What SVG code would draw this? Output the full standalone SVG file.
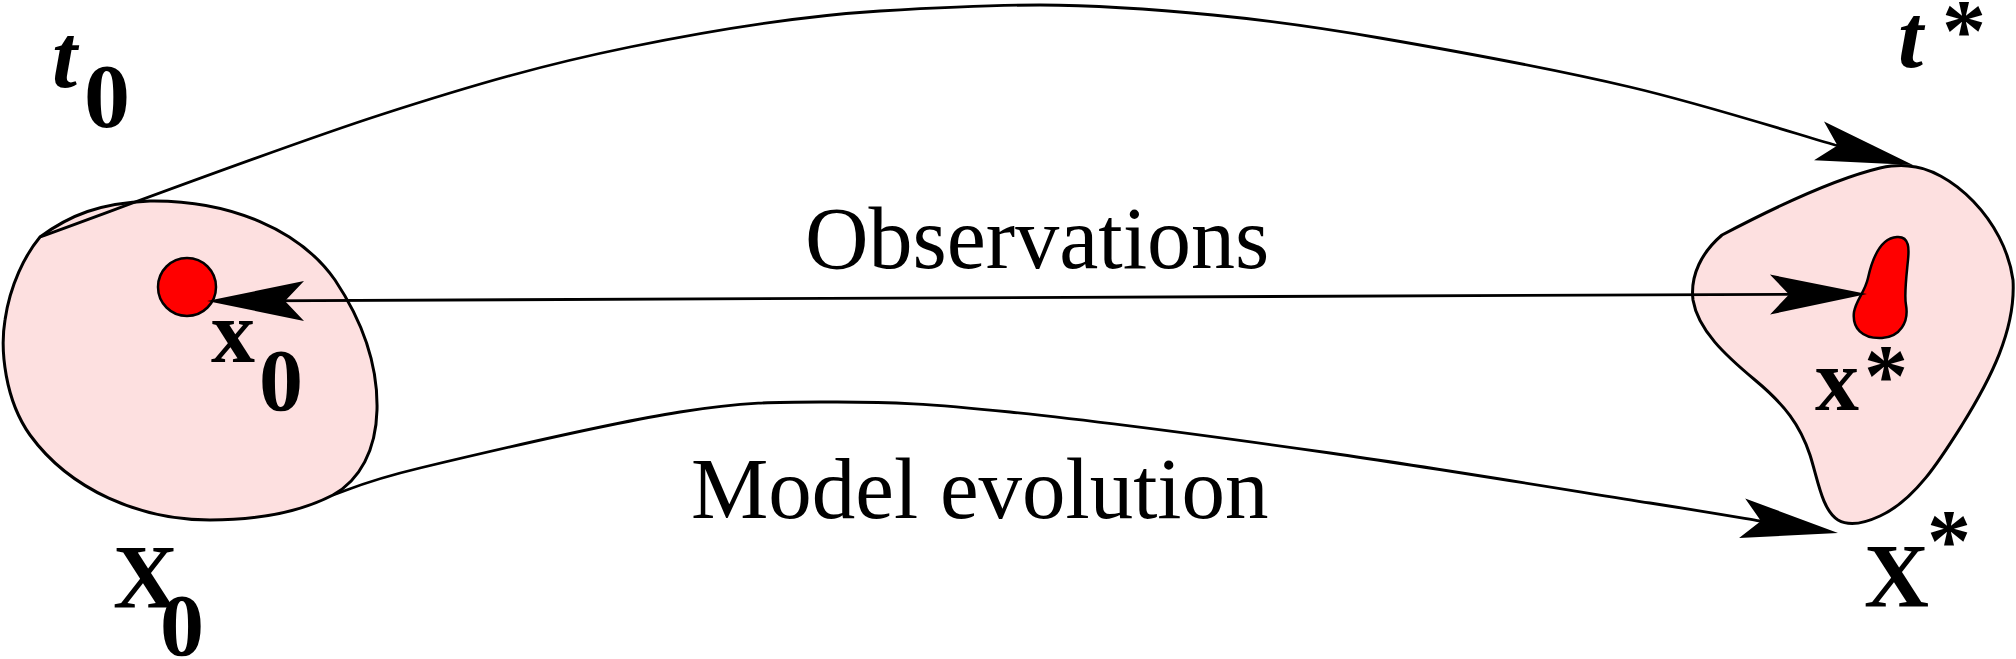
<svg xmlns="http://www.w3.org/2000/svg" xmlns:xlink="http://www.w3.org/1999/xlink" width="2016" height="659" viewBox="0 0 2016 659">
  <style>
    .region { fill: #fde0e0; stroke: #000; stroke-width: 3; stroke-linejoin: round; }
    .point { fill: #ff0000; stroke: #000; stroke-width: 2.5; }
    .conn { fill: none; stroke: #000; stroke-width: 2.8; }
    .head { fill: #000; stroke: none; }
    .lbl { font-family: "Liberation Serif", "Times New Roman", serif; fill: #000; }
    .b { font-weight: bold; }
    .bi { font-weight: bold; font-style: italic; }
  </style>
  <defs>
    <path id="ah" d="M0,0 L-97,-20 L-78,0 L-97,20 Z"/>
  </defs>
  <rect x="0" y="0" width="2016" height="659" fill="#fff"/>

  <g id="node-X0">
    <path class="region" d="M40,237 C70,215 100,203 150,201 C230,200 300,230 335,280 C365,325 378,370 377,410 C376,450 360,480 333,495 C300,512 260,520 210,520 C140,520 70,490 30,435 C5,400 0,350 5,320 C10,285 25,255 40,237 Z"/>
    <text class="lbl b" font-size="90"><tspan x="113" y="608">X</tspan><tspan x="160" y="655" font-size="88">0</tspan></text>
  </g>

  <g id="node-Xstar">
    <path class="region" d="M1722,235 C1760,215 1830,180 1880,168 C1890,166 1900,165 1908,166 C1950,168 2005,220 2013,280 C2016,330 1990,380 1962,425 C1940,460 1915,500 1880,516 C1865,523 1850,527 1838,520 C1822,510 1818,480 1810,455 C1800,425 1785,405 1755,380 C1725,355 1698,330 1693,300 C1690,275 1702,252 1722,235 Z"/>
    <text class="lbl b" font-size="90"><tspan x="1864" y="607">X</tspan><tspan x="1927" y="570" font-size="88">*</tspan></text>
  </g>

  <g id="connectors">
    <path id="conn-model" class="conn" d="M40,237 C96.7,216.7 281.7,146.7 380,115 C478.3,83.3 546.7,64 630,47 C713.3,30 800,16 880,11 C948.3,7 990,5 1040,5 C1095.5,5.3 1156.3,9.5 1213,15 C1269.7,20.5 1310.5,26 1380,38 C1449.5,50 1554.2,69.2 1630,87 C1705.8,104.8 1800.8,135.3 1835,145 L1895,160"/>
    <path id="conn-evolution" class="conn" d="M333,495 C347.5,490.5 362.2,481.8 420,468 C477.8,454.2 610.5,423 680,412 C749.5,401 782,402 837,402 C892,402 927.8,403.5 1010,412 C1092.2,420.5 1223.3,437.8 1330,453 C1436.7,468.2 1578.3,491.7 1650,503 C1721.7,514.3 1741.7,518 1760,521 L1825,531"/>
    <path id="conn-observations" class="conn" d="M220,301 L1855,294"/>
    <use href="#ah" class="head" transform="translate(1913,165) rotate(14.4)"/>
    <use href="#ah" class="head" transform="translate(1838,533) rotate(8.8)"/>
  </g>

  <g id="node-x0">
    <circle class="point" cx="187" cy="287" r="29"/>
    <text class="lbl b" font-size="88"><tspan x="211" y="362">x</tspan><tspan x="259" y="410">0</tspan></text>
  </g>

  <g id="node-xstar">
    <path class="point" d="M1897,237 C1910,236 1909,250 1908,260 C1906,280 1904,295 1906,305 C1909,322 1900,337 1882,338 C1862,339 1852,328 1854,312 C1856,300 1865,292 1868,278 C1872,260 1880,238 1897,237 Z"/>
    <text class="lbl b" font-size="88"><tspan x="1815" y="410">x</tspan><tspan x="1864" y="405">*</tspan></text>
  </g>

  <g id="obs-heads">
    <use href="#ah" class="head" transform="translate(1867,294) rotate(-0.3)"/>
    <use href="#ah" class="head" transform="translate(207,301) rotate(180)"/>
  </g>

  <g id="labels">
    <text class="lbl" font-size="88" x="805" y="268">Observations</text>
    <text class="lbl" font-size="87" x="691" y="518">Model evolution</text>
    <text class="lbl bi" font-size="90"><tspan x="52" y="87">t</tspan><tspan x="84" y="127" class="b" font-style="normal" font-size="92">0</tspan></text>
    <text class="lbl bi" font-size="90"><tspan x="1898" y="67">t</tspan><tspan x="1942" y="60" font-style="normal" font-size="88">*</tspan></text>
  </g>
</svg>
